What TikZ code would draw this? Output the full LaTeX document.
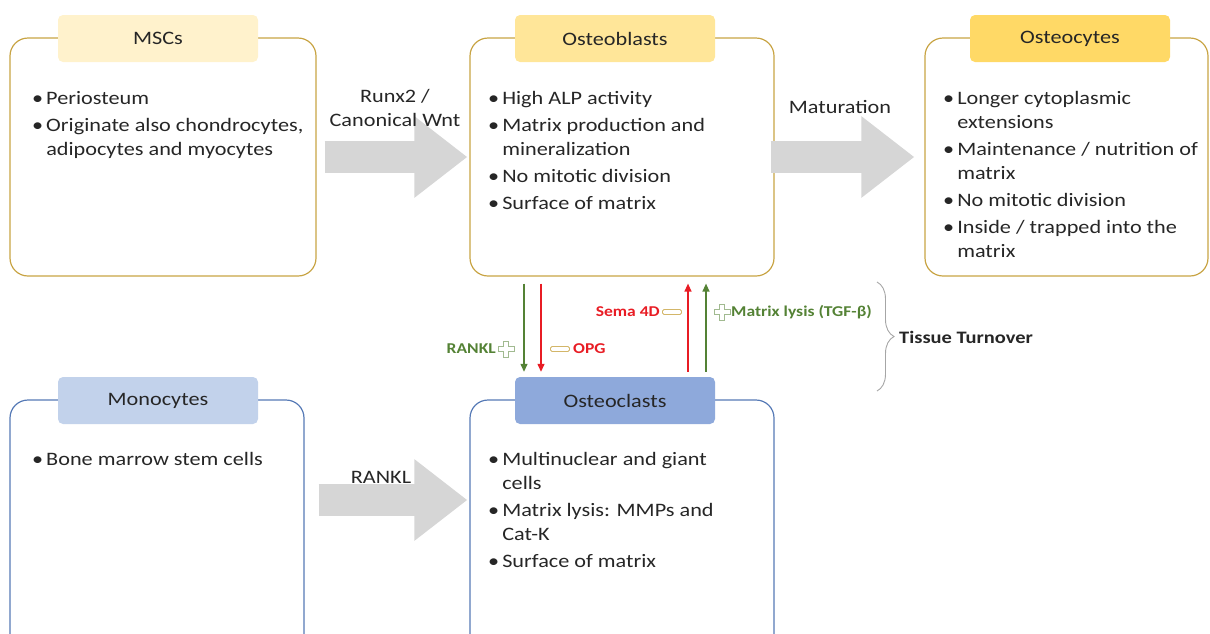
\documentclass[tikz,border=0pt]{standalone}
\usepackage{fontspec}
\setmainfont{Carlito}[FakeStretch=1.17]
\usetikzlibrary{arrows.meta, positioning, decorations.pathreplacing}
\definecolor{goldLine}{RGB}{200,164,68}
\definecolor{blueLine}{RGB}{86,122,182}
\definecolor{mscFill}{RGB}{255,242,204}
\definecolor{obFill}{RGB}{255,230,153}
\definecolor{ocFill}{RGB}{255,217,102}
\definecolor{monoFill}{RGB}{194,210,235}
\definecolor{oclFill}{RGB}{142,169,219}
\definecolor{arrowGray}{RGB}{214,214,214}
\definecolor{plusGreen}{RGB}{84,130,53}
\definecolor{minusRed}{RGB}{232,28,36}
\definecolor{textDark}{RGB}{38,38,38}
\tikzset{plussign/.pic={\draw[plusGreen!55, line width=0.8pt, fill=white] (-2.5,8)--(2.5,8)--(2.5,2.5)--(8,2.5)--(8,-2.5)--(2.5,-2.5)--(2.5,-8)--(-2.5,-8)--(-2.5,-2.5)--(-8,-2.5)--(-8,2.5)--(-2.5,2.5)--cycle;}}

\begin{document}
\begin{tikzpicture}[x=1pt, y=1pt,
    cellbox/.style={draw=#1, line width=1.2pt, rounded corners=18pt, minimum width=304pt, minimum height=238pt},
    titlebox/.style={fill=#1, rounded corners=5pt, minimum width=200pt, minimum height=47pt, font=\fontsize{19}{21}\selectfont, text=textDark},
    itemtext/.style={anchor=north west, inner sep=0pt, font=\fontsize{19}{24}\selectfont, text=textDark},
    arrowtext/.style={align=center, font=\fontsize{19}{24}\selectfont, text=textDark},
    sigtext/.style={font=\fontsize{15}{17}\selectfont\bfseries, text=#1, inner sep=0pt},
    minussign/.style={draw=goldLine!80, fill=white, line width=0.8pt, rounded corners=1.5pt, minimum width=19pt, minimum height=5pt, inner sep=0pt},
    bigarrow/.style={line width=32pt, draw=arrowGray, -{Triangle[length=53pt, width=78pt]}},
    thinarrow/.style={line width=1.3pt, draw=#1, -{Triangle[length=8pt, width=7pt]}}
]
    \clip (0,0) rectangle (1210,-633);

    \node[cellbox=goldLine, minimum width=306pt] (msc) at (163,-157) {};
    \node[cellbox=goldLine] (ob) at (622,-157) {};
    \node[cellbox=goldLine, minimum width=283pt] (oc) at (1066.5,-157) {};
    \node[cellbox=blueLine, minimum width=294pt, minimum height=270pt] (mono) at (157,-535) {};
    \node[cellbox=blueLine, minimum height=270pt] (ocl) at (622,-535) {};

    \node[titlebox=mscFill] (mscT) at (158,-38.5) {MSCs};
    \node[titlebox=obFill] (obT) at (615,-38.5) {Osteoblasts};
    \node[titlebox=ocFill] (ocT) at (1070,-38.5) {Osteocytes};
    \node[titlebox=monoFill] (monoT) at (158,-400.5) {Monocytes};
    \node[titlebox=oclFill] (oclT) at (615,-400.5) {Osteoclasts};

    \node[itemtext] (mscL) at (32,-87) {\begin{tabular}{@{}l@{\hspace{3pt}}l@{}}
        \textbullet & Periosteum\\[3pt]
        \textbullet & Originate also chondrocytes,\\
                    & adipocytes and myocytes
    \end{tabular}};
    \node[itemtext] (obL) at (488,-87) {\begin{tabular}{@{}l@{\hspace{3pt}}l@{}}
        \textbullet & High ALP activity\\[3pt]
        \textbullet & Matrix production and\\
                    & mineralization\\[3pt]
        \textbullet & No mitotic division\\[3pt]
        \textbullet & Surface of matrix
    \end{tabular}};
    \node[itemtext] (ocL) at (943,-87) {\begin{tabular}{@{}l@{\hspace{3pt}}l@{}}
        \textbullet & Longer cytoplasmic\\
                    & extensions\\[3pt]
        \textbullet & Maintenance / nutrition of\\
                    & matrix\\[3pt]
        \textbullet & No mitotic division\\[3pt]
        \textbullet & Inside / trapped into the\\
                    & matrix
    \end{tabular}};
    \node[itemtext] (monoL) at (32,-448) {\begin{tabular}{@{}l@{\hspace{3pt}}l@{}}
        \textbullet & Bone marrow stem cells
    \end{tabular}};
    \node[itemtext] (oclL) at (488,-448) {\begin{tabular}{@{}l@{\hspace{3pt}}l@{}}
        \textbullet & Multinuclear and giant\\
                    & cells\\[3pt]
        \textbullet & Matrix lysis: MMPs and\\
                    & Cat-K\\[3pt]
        \textbullet & Surface of matrix
    \end{tabular}};

    \draw[bigarrow] ([xshift=8pt]msc.east) -- ([xshift=-2pt]ob.west);
    \draw[bigarrow] ([xshift=-4pt]ob.east) -- ([xshift=-10pt]oc.west);
    \draw[bigarrow] ([xshift=14pt,yshift=35pt]mono.east) -- ([xshift=-2pt,yshift=35pt]ocl.west);

    \node[arrowtext] (runxT) at (395,-108) {Runx2 /\\Canonical Wnt};
    \node[arrowtext] (matT) at (840,-107) {Maturation};
    \node[arrowtext] (rankT) at (381,-477) {RANKL};

    \draw[thinarrow=plusGreen] ([xshift=-98pt,yshift=-7pt]ob.south) -- ([xshift=-91pt,yshift=5pt]oclT.north);
    \draw[thinarrow=minusRed] ([xshift=-81pt,yshift=-7pt]ob.south) -- ([xshift=-74pt,yshift=5pt]oclT.north);
    \draw[thinarrow=minusRed] ([xshift=73pt,yshift=5pt]oclT.north) -- ([xshift=66pt,yshift=-7pt]ob.south);
    \draw[thinarrow=plusGreen] ([xshift=91pt,yshift=5pt]oclT.north) -- ([xshift=84pt,yshift=-7pt]ob.south);

    \pic at (506,-349) {plussign};
    \node[sigtext=plusGreen, anchor=east] (ranklS) at (496,-349) {RANKL};
    \node[minussign] (opgM) at (560,-349) {};
    \node[sigtext=minusRed, anchor=west] (opgS) at (573,-349) {OPG};
    \node[sigtext=minusRed, anchor=east] (semaS) at (660,-312) {Sema 4D};
    \node[minussign] (semaM) at (672,-312) {};
    \pic at (722,-312) {plussign};
    \node[sigtext=plusGreen, anchor=west] (lysisS) at (731,-312) {Matrix lysis (TGF-β)};

    \coordinate (braceTop) at (877,-282);
    \coordinate (braceBot) at (877,-391);
    \draw[decorate, decoration={brace, amplitude=17pt}, draw=black!35, line width=0.9pt] (braceTop) -- (braceBot);
    \node[sigtext=textDark, font=\fontsize{17.5}{20}\selectfont\bfseries, anchor=west] (turnT) at (899,-337) {Tissue Turnover};
\end{tikzpicture}
\end{document}
